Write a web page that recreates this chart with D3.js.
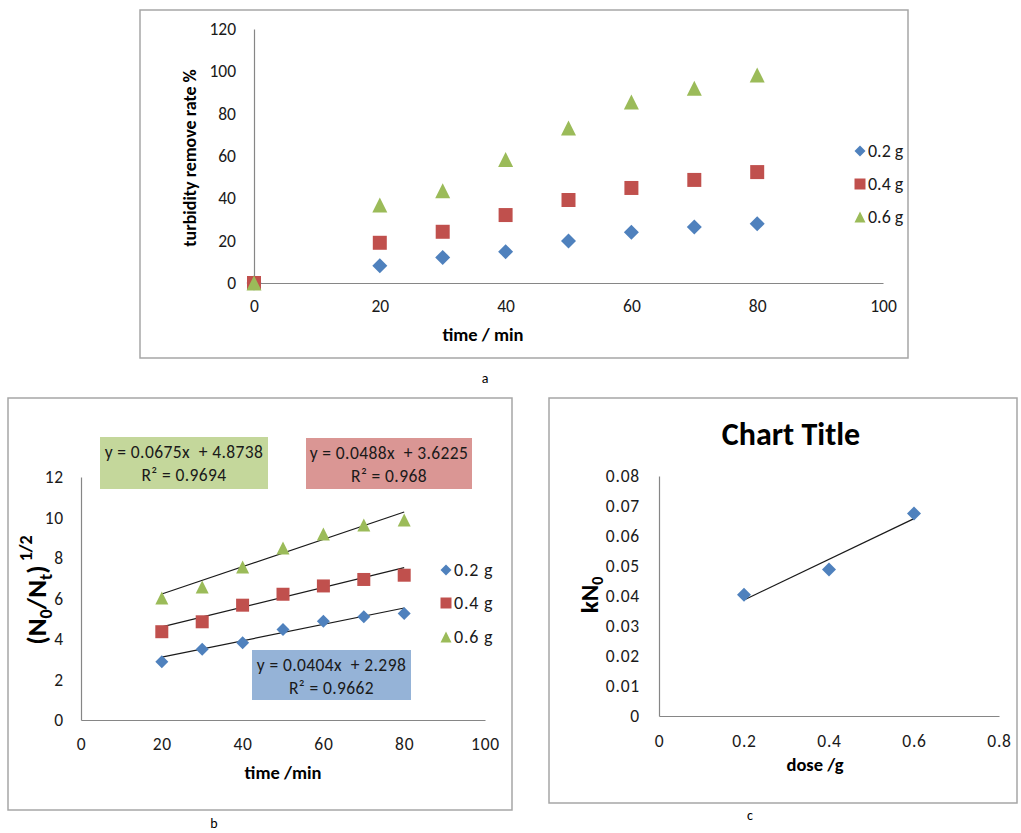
<!DOCTYPE html>
<html>
<head>
<meta charset="utf-8">
<script src="https://cdn.jsdelivr.net/npm/d3@7"></script>
<style>
  body { margin: 0; background: #fff; }
  svg { display: block; }
</style>
</head>
<body>
<script>
const W = 1021;
const H = 833;
const FONT = "Carlito, Calibri, Lato, sans-serif";

// panel a: turbidity removal vs time
const timeA = [0, 20, 30, 40, 50, 60, 70, 80];
const rate02 = [0, 8.2, 12.1, 14.8, 19.8, 24, 26.5, 28];
const rate04 = [0, 19, 24.2, 32.1, 39.2, 44.9, 48.7, 52.4];
const rate06 = [0, 36.8, 43.6, 58.4, 73.2, 85.5, 92, 98.3];
const ticksAx = [0, 20, 40, 60, 80, 100];
const ticksAy = [0, 20, 40, 60, 80, 100, 120];

// panel b: (N0/Nt)^1/2 vs time, with linear fits
const timeB = [20, 30, 40, 50, 60, 70, 80];
const root02 = [2.88, 3.5, 3.81, 4.47, 4.88, 5.1, 5.26];
const root04 = [4.36, 4.85, 5.67, 6.21, 6.62, 6.94, 7.15];
const root06 = [6.02, 6.57, 7.56, 8.49, 9.19, 9.63, 9.88];
const fitSlope = [0.0404, 0.0488, 0.0675];
const fitIntercept = [2.298, 3.6225, 4.8738];
const fitR2 = ["0.9662", "0.968", "0.9694"];
const ticksBx = [0, 20, 40, 60, 80, 100];
const ticksBy = [0, 2, 4, 6, 8, 10, 12];

// panel c: kN0 vs dose
const dose = [0.2, 0.4, 0.6];
const kN0 = [0.0404, 0.0488, 0.0675];
const ticksCx = [0, 0.2, 0.4, 0.6, 0.8];
const ticksCy = [0, 0.01, 0.02, 0.03, 0.04, 0.05, 0.06, 0.07, 0.08];

const doseLabels = ["0.2 g", "0.4 g", "0.6 g"];
const markerKinds = ["diamond", "square", "triangle"];
const colors = ["#4f81bd", "#c0504d", "#9bbb59"];
const boxFills = ["#95b3d7", "#da9694", "#c4d79b"];

function markerPath(kind, s) {
  const h = s / 2;
  if (kind === "diamond") return `M0,${-h}L${h},0L0,${h}L${-h},0Z`;
  if (kind === "square") return `M${-h},${-h}h${s}v${s}h${-s}Z`;
  return `M0,${-h}L${h},${h}L${-h},${h}Z`;
}

const svg = d3.select("body").append("svg")
  .attr("width", W)
  .attr("height", H)
  .attr("viewBox", `0 0 ${W} ${H}`);

svg.append("rect").attr("width", W).attr("height", H).attr("fill", "#fff");

function frame(x0, y0, x1, y1) {
  svg.append("rect")
    .attr("x", x0).attr("y", y0)
    .attr("width", x1 - x0).attr("height", y1 - y0)
    .attr("fill", "#fff")
    .attr("stroke", "#a6a6a6")
    .attr("stroke-width", 1.5);
}

function axes(x, y, xt, yt, fmtX, fmtY, padX, padY, spacing) {
  const ax = svg.append("g")
    .attr("transform", `translate(0,${y.range()[0]})`)
    .call(d3.axisBottom(x).tickValues(xt).tickFormat(fmtX).tickSize(0).tickPadding(padX));
  const ay = svg.append("g")
    .attr("transform", `translate(${x.range()[0]},0)`)
    .call(d3.axisLeft(y).tickValues(yt).tickFormat(fmtY).tickSize(0).tickPadding(padY));
  [ax, ay].forEach((a) => {
    a.select(".domain").attr("stroke", "#868686").attr("stroke-width", 1.2);
    a.selectAll("text")
      .attr("fill", "#1a1a1a")
      .attr("font-size", "17.5px")
      .attr("letter-spacing", spacing)
      .attr("font-family", FONT);
  });
}

function scatter(x, y, xs, ys, kind, color, size) {
  svg.append("g").selectAll("path")
    .data(xs.map((v, i) => [v, ys[i]]))
    .join("path")
    .attr("transform", (d) => `translate(${x(d[0])},${y(d[1])})`)
    .attr("d", markerPath(kind, size))
    .attr("fill", color);
}

function legend(x0, ys, size, spacing) {
  doseLabels.forEach((lab, i) => {
    svg.append("path")
      .attr("transform", `translate(${x0},${ys[i]})`)
      .attr("d", markerPath(markerKinds[i], size))
      .attr("fill", colors[i]);
    svg.append("text")
      .attr("x", x0 + 8).attr("y", ys[i] + 6)
      .attr("font-size", "18px").attr("font-family", FONT)
      .attr("letter-spacing", spacing)
      .attr("fill", "#1a1a1a")
      .text(lab);
  });
}

function label(x, y, txt, size, weight, rotate) {
  const t = svg.append("text")
    .attr("text-anchor", "middle")
    .attr("font-size", size + "px")
    .attr("font-weight", weight)
    .attr("font-family", FONT)
    .attr("fill", "#000");
  if (rotate) t.attr("transform", `translate(${x},${y}) rotate(-90)`);
  else t.attr("x", x).attr("y", y);
  if (txt != null) t.text(txt);
  return t;
}

// ---------- panel a ----------
frame(140, 10, 908, 358);
const xA = d3.scaleLinear().domain([0, 100]).range([254, 883]);
const yA = d3.scaleLinear().domain([0, 120]).range([283, 29]);
axes(xA, yA, ticksAx, ticksAy, d3.format("d"), d3.format("d"), 17, 18, 0);
[rate02, rate04, rate06].forEach((s, i) => {
  scatter(xA, yA, timeA, s, markerKinds[i], colors[i], i === 1 ? 14 : 15);
});
legend(860, [151, 184, 217], 11, 0);
label(196, 158, "turbidity remove rate %", 18, "bold", true);
label(483, 341, "time / min", 18.5, "bold", false);
label(485, 383, "a", 14, "normal", false);

// ---------- panel b ----------
frame(8, 398, 512, 810);
const xB = d3.scaleLinear().domain([0, 100]).range([81, 485]);
const yB = d3.scaleLinear().domain([0, 12]).range([720, 477]);
axes(xB, yB, ticksBx, ticksBy, d3.format("d"), d3.format("d"), 18, 17, 0.8);
fitSlope.forEach((m, i) => {
  const x0 = d3.min(timeB), x1 = d3.max(timeB);
  svg.append("line")
    .attr("x1", xB(x0)).attr("y1", yB(m * x0 + fitIntercept[i]))
    .attr("x2", xB(x1)).attr("y2", yB(m * x1 + fitIntercept[i]))
    .attr("stroke", "#1a1a1a").attr("stroke-width", 1.2);
});
[root02, root04, root06].forEach((s, i) => {
  scatter(xB, yB, timeB, s, markerKinds[i], colors[i], 13);
});
legend(446, [570, 603, 637], 11, 0.8);

// equation boxes: blue (0.2 g), red (0.4 g), green (0.6 g)
const eqBoxes = [[252, 650, 411, 700], [306, 438, 472, 489], [100, 437, 268, 489]];
eqBoxes.forEach((b, i) => {
  svg.append("rect")
    .attr("x", b[0]).attr("y", b[1])
    .attr("width", b[2] - b[0]).attr("height", b[3] - b[1])
    .attr("fill", boxFills[i]);
  const cx = (b[0] + b[2]) / 2;
  label(cx, b[1] + 21, `y = ${fitSlope[i]}x  + ${fitIntercept[i]}`, 17.5, "normal", false)
    .attr("fill", "#1a1a1a").attr("letter-spacing", 0.4).style("white-space", "pre");
  label(cx, b[1] + 44, `R² = ${fitR2[i]}`, 17.5, "normal", false)
    .attr("fill", "#1a1a1a").attr("letter-spacing", 0.4);
});

const tb = label(46, 590, null, 27, "bold", true);
tb.append("tspan").text("(N");
tb.append("tspan").attr("font-size", "18px").attr("dy", 6).text("0");
tb.append("tspan").attr("dy", -6).text("/N");
tb.append("tspan").attr("font-size", "18px").attr("dy", 6).text("t");
tb.append("tspan").attr("dy", -6).text(")");
tb.append("tspan").attr("font-size", "18px").attr("dy", -14).text(" 1/2");
label(283, 779, "time /min", 18.5, "bold", false);
label(214, 828, "b", 14, "normal", false);

// ---------- panel c ----------
frame(549, 398, 1017, 803);
const xC = d3.scaleLinear().domain([0, 0.8]).range([659, 999]);
const yC = d3.scaleLinear().domain([0, 0.08]).range([716, 476]);
axes(xC, yC, ticksCx, ticksCy, (d) => d === 0 ? "0" : d3.format(".1f")(d), (d) => d === 0 ? "0" : d3.format(".2f")(d), 19, 19, 0.8);
// least-squares trendline through the kN0 points
const mx = d3.mean(dose), my = d3.mean(kN0);
const slopeC = d3.sum(dose, (d, i) => (d - mx) * (kN0[i] - my)) / d3.sum(dose, (d) => (d - mx) ** 2);
const interC = my - slopeC * mx;
svg.append("line")
  .attr("x1", xC(d3.min(dose))).attr("y1", yC(slopeC * d3.min(dose) + interC))
  .attr("x2", xC(d3.max(dose))).attr("y2", yC(slopeC * d3.max(dose) + interC))
  .attr("stroke", "#1a1a1a").attr("stroke-width", 1.2);
scatter(xC, yC, dose, kN0, "diamond", colors[0], 14);
label(791, 445, "Chart Title", 32, "bold", false);
const tc = label(598, 595, null, 25, "bold", true);
tc.append("tspan").text("kN");
tc.append("tspan").attr("font-size", "16px").attr("dy", 5).text("0");
label(815, 771, "dose /g", 18.5, "bold", false);
label(750, 820, "c", 14, "normal", false);
</script>
</body>
</html>
